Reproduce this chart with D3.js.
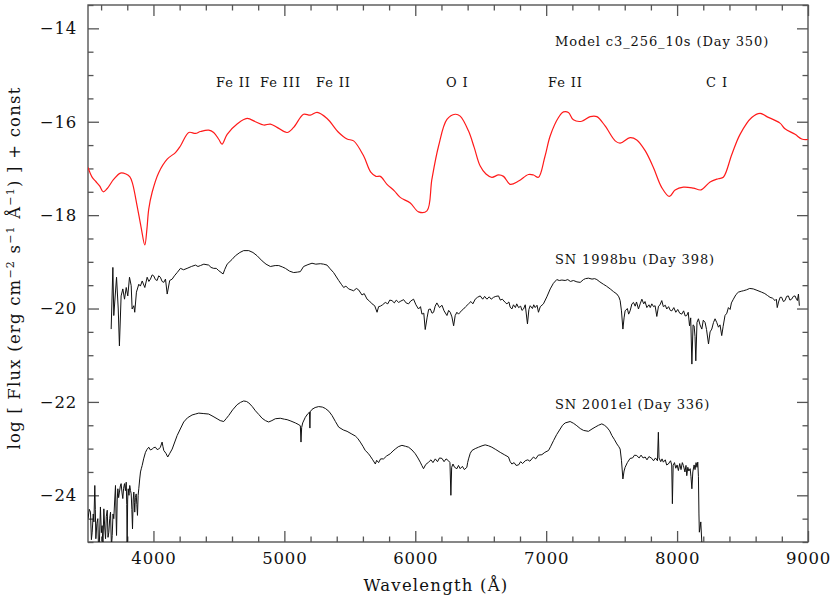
<!DOCTYPE html>
<html><head><meta charset="utf-8">
<script src="https://cdn.jsdelivr.net/npm/d3@7"></script>
<style>
body{margin:0;background:#fff;}
svg{display:block;}
text{font-family:"DejaVu Serif",serif;fill:#111;}
</style></head>
<body>
<svg id="chart" width="830" height="616"></svg>
<script>
// ---------------- DATA ----------------
const xDomain = [3500, 9000];
const yDomain = [-25, -13.5];
const xMajorTicks = [4000, 5000, 6000, 7000, 8000, 9000];
const yMajorTicks = [-24, -22, -20, -18, -16, -14];

const modelSpectrum = [
[3500,-16.98],[3530,-17.18],[3560,-17.28],[3590,-17.38],[3616,-17.50],[3647,-17.43],[3697,-17.23],[3748,-17.10],[3790,-17.12],[3820,-17.18],[3840,-17.32],[3875,-17.80],[3905,-18.25],[3934,-18.64],[3950,-18.30],[3964,-17.87],[3990,-17.51],[4040,-17.09],[4105,-16.80],[4168,-16.66],[4206,-16.52],[4270,-16.23],[4321,-16.25],[4359,-16.21],[4422,-16.18],[4460,-16.23],[4500,-16.38],[4524,-16.48],[4563,-16.27],[4639,-16.05],[4715,-15.93],[4779,-16.00],[4842,-16.07],[4893,-16.05],[4944,-16.12],[5021,-16.23],[5071,-16.12],[5147,-15.84],[5198,-15.86],[5250,-15.80],[5326,-15.93],[5415,-16.23],[5479,-16.37],[5529,-16.41],[5605,-16.73],[5660,-17.08],[5700,-17.17],[5733,-17.17],[5784,-17.34],[5840,-17.48],[5885,-17.62],[5962,-17.74],[6025,-17.93],[6089,-17.91],[6127,-17.23],[6178,-16.52],[6242,-15.95],[6305,-15.84],[6343,-15.88],[6407,-16.20],[6450,-16.55],[6496,-16.95],[6540,-17.12],[6585,-17.19],[6636,-17.14],[6674,-17.17],[6725,-17.34],[6789,-17.27],[6865,-17.13],[6903,-17.14],[6941,-17.19],[6990,-16.75],[7031,-16.30],[7094,-15.91],[7132,-15.79],[7170,-15.80],[7208,-15.96],[7272,-15.99],[7336,-15.89],[7387,-15.89],[7450,-16.09],[7527,-16.41],[7565,-16.46],[7641,-16.34],[7692,-16.39],[7756,-16.62],[7819,-16.98],[7883,-17.41],[7941,-17.60],[7985,-17.46],[8048,-17.40],[8124,-17.42],[8183,-17.46],[8252,-17.29],[8315,-17.22],[8353,-17.19],[8418,-16.70],[8481,-16.27],[8570,-15.91],[8634,-15.82],[8685,-15.89],[8786,-16.03],[8824,-16.15],[8901,-16.27],[8952,-16.37],[9000,-16.38]
];

const sn1998bu = [
[3677,-20.44],[3690,-19.12],[3697,-20.15],[3718,-19.33],[3731,-20.01],[3740,-20.80],[3753,-19.73],[3766,-19.58],[3779,-19.80],[3792,-19.55],[3804,-19.73],[3817,-19.33],[3830,-19.51],[3837,-20.01],[3850,-19.94],[3857,-20.08],[3870,-19.65],[3888,-19.48],[3900,-19.52],[3914,-19.41],[3934,-19.55],[3952,-19.33],[3965,-19.42],[3977,-19.37],[3990,-19.28],[4002,-19.30],[4015,-19.38],[4028,-19.40],[4040,-19.30],[4053,-19.33],[4066,-19.42],[4079,-19.44],[4092,-19.37],[4105,-19.69],[4124,-19.40],[4143,-19.37],[4160,-19.30],[4181,-19.23],[4206,-19.14],[4230,-19.17],[4257,-19.14],[4290,-19.10],[4321,-19.07],[4340,-19.10],[4359,-19.08],[4385,-19.05],[4422,-19.07],[4440,-19.12],[4460,-19.14],[4480,-19.14],[4499,-19.19],[4532,-19.26],[4545,-19.16],[4563,-19.05],[4600,-18.95],[4626,-18.87],[4660,-18.80],[4689,-18.76],[4728,-18.76],[4760,-18.80],[4792,-18.87],[4830,-18.98],[4860,-19.05],[4893,-19.10],[4930,-19.08],[4957,-19.08],[4985,-19.11],[5008,-19.14],[5040,-19.20],[5071,-19.23],[5100,-19.22],[5122,-19.21],[5147,-19.10],[5180,-19.06],[5211,-19.03],[5240,-19.05],[5275,-19.04],[5300,-19.05],[5326,-19.07],[5350,-19.15],[5376,-19.23],[5415,-19.40],[5435,-19.48],[5453,-19.55],[5470,-19.52],[5491,-19.58],[5510,-19.60],[5529,-19.62],[5550,-19.57],[5567,-19.60],[5593,-19.71],[5610,-19.68],[5632,-19.80],[5650,-19.84],[5670,-19.90],[5690,-19.94],[5708,-20.08],[5720,-19.96],[5733,-19.95],[5750,-19.92],[5771,-19.87],[5790,-19.90],[5805,-19.82],[5822,-19.83],[5840,-19.88],[5855,-19.82],[5873,-19.87],[5890,-19.84],[5911,-19.81],[5930,-19.88],[5949,-19.90],[5965,-19.84],[5987,-19.80],[6005,-19.92],[6025,-20.01],[6040,-19.96],[6051,-20.12],[6065,-20.10],[6076,-20.45],[6090,-20.20],[6102,-20.02],[6115,-20.01],[6128,-20.10],[6140,-20.08],[6152,-19.95],[6165,-19.88],[6185,-19.98],[6204,-19.93],[6220,-20.05],[6242,-20.15],[6255,-20.04],[6267,-20.08],[6280,-20.18],[6293,-20.37],[6305,-20.15],[6318,-20.08],[6330,-20.12],[6343,-20.08],[6355,-20.04],[6369,-20.01],[6385,-19.96],[6407,-19.90],[6425,-19.85],[6440,-19.90],[6458,-19.80],[6475,-19.76],[6496,-19.73],[6515,-19.80],[6530,-19.74],[6547,-19.80],[6565,-19.75],[6580,-19.80],[6598,-19.76],[6615,-19.74],[6636,-19.73],[6650,-19.82],[6665,-19.80],[6687,-19.87],[6700,-19.90],[6715,-19.86],[6725,-19.97],[6738,-20.01],[6750,-19.92],[6765,-19.98],[6775,-19.90],[6789,-19.98],[6805,-19.95],[6815,-20.04],[6827,-20.01],[6840,-19.92],[6857,-20.33],[6868,-20.02],[6878,-19.94],[6895,-20.00],[6905,-19.92],[6916,-19.98],[6930,-19.93],[6941,-20.08],[6955,-19.96],[6979,-19.90],[7005,-19.75],[7031,-19.58],[7055,-19.46],[7081,-19.38],[7100,-19.40],[7120,-19.39],[7145,-19.40],[7165,-19.38],[7185,-19.42],[7208,-19.40],[7235,-19.43],[7260,-19.44],[7285,-19.38],[7300,-19.36],[7323,-19.35],[7350,-19.37],[7370,-19.36],[7387,-19.38],[7410,-19.43],[7437,-19.48],[7460,-19.52],[7489,-19.58],[7515,-19.64],[7540,-19.69],[7555,-19.75],[7565,-19.83],[7575,-20.05],[7586,-20.44],[7595,-20.20],[7603,-20.05],[7620,-20.00],[7630,-20.12],[7641,-20.05],[7655,-19.90],[7667,-19.87],[7680,-19.95],[7690,-19.86],[7705,-20.01],[7718,-19.90],[7731,-19.80],[7745,-19.90],[7755,-19.85],[7769,-19.98],[7785,-19.92],[7795,-19.98],[7807,-19.90],[7820,-19.96],[7832,-19.94],[7845,-20.17],[7858,-19.95],[7870,-19.92],[7883,-19.83],[7895,-19.96],[7910,-19.93],[7921,-20.01],[7935,-19.96],[7948,-20.04],[7960,-20.05],[7975,-19.98],[7990,-20.08],[8005,-20.02],[8020,-20.10],[8036,-20.12],[8050,-20.05],[8062,-20.16],[8074,-20.15],[8085,-20.08],[8095,-20.37],[8104,-20.20],[8113,-21.19],[8122,-20.35],[8130,-20.37],[8137,-20.60],[8143,-21.12],[8152,-20.30],[8163,-20.22],[8175,-20.35],[8189,-20.44],[8200,-20.25],[8214,-20.30],[8225,-20.45],[8240,-20.76],[8252,-20.50],[8265,-20.44],[8278,-20.30],[8290,-20.22],[8303,-20.30],[8316,-20.40],[8328,-20.35],[8341,-20.58],[8352,-20.38],[8366,-20.15],[8380,-20.10],[8392,-19.98],[8405,-20.02],[8415,-19.88],[8430,-19.80],[8450,-19.70],[8468,-19.65],[8490,-19.63],[8506,-19.62],[8530,-19.60],[8555,-19.57],[8582,-19.58],[8610,-19.61],[8646,-19.65],[8670,-19.68],[8690,-19.72],[8710,-19.76],[8730,-19.78],[8748,-19.83],[8758,-19.80],[8765,-19.98],[8775,-19.86],[8787,-19.76],[8799,-19.76],[8812,-19.85],[8824,-19.83],[8837,-19.74],[8850,-19.73],[8862,-19.82],[8875,-19.80],[8888,-19.74],[8901,-19.73],[8912,-19.80],[8919,-19.83],[8927,-19.69],[8934,-19.94]
];

const sn2001el = [
[3500,-24.50],[3510,-24.30],[3519,-24.36],[3526,-24.95],[3532,-24.79],[3540,-24.40],[3545,-24.57],[3552,-23.79],[3556,-24.30],[3560,-24.93],[3568,-24.60],[3575,-24.50],[3580,-25.10],[3586,-25.10],[3595,-24.25],[3602,-24.80],[3608,-24.65],[3614,-25.10],[3621,-24.29],[3628,-24.70],[3634,-24.93],[3640,-24.45],[3647,-24.32],[3653,-24.90],[3659,-24.79],[3666,-24.50],[3672,-24.36],[3679,-25.10],[3685,-24.86],[3691,-24.40],[3697,-24.50],[3704,-24.10],[3710,-23.79],[3714,-24.40],[3718,-24.86],[3723,-24.10],[3728,-23.86],[3734,-24.05],[3740,-23.93],[3747,-23.80],[3753,-23.75],[3760,-23.95],[3766,-24.07],[3772,-23.85],[3779,-23.75],[3786,-23.90],[3792,-23.72],[3796,-24.20],[3799,-25.10],[3803,-24.10],[3807,-23.86],[3813,-24.00],[3819,-23.79],[3825,-23.90],[3830,-23.97],[3835,-24.30],[3840,-24.72],[3845,-24.10],[3850,-23.93],[3854,-24.15],[3857,-24.36],[3862,-24.05],[3868,-23.97],[3873,-24.20],[3878,-24.43],[3883,-24.00],[3888,-23.86],[3895,-23.65],[3901,-23.50],[3908,-23.42],[3914,-23.36],[3925,-23.22],[3939,-23.08],[3950,-23.02],[3964,-22.97],[3977,-23.03],[3990,-23.01],[4002,-22.98],[4015,-22.97],[4028,-23.02],[4040,-23.01],[4053,-22.97],[4066,-22.86],[4072,-22.95],[4079,-23.04],[4095,-23.10],[4109,-23.18],[4125,-23.10],[4143,-23.01],[4160,-22.88],[4181,-22.72],[4205,-22.58],[4231,-22.43],[4260,-22.34],[4295,-22.28],[4320,-22.26],[4346,-22.24],[4385,-22.25],[4422,-22.26],[4455,-22.31],[4486,-22.36],[4510,-22.40],[4537,-22.42],[4555,-22.36],[4575,-22.29],[4605,-22.17],[4639,-22.06],[4665,-22.01],[4689,-21.98],[4710,-21.99],[4728,-22.02],[4755,-22.10],[4779,-22.19],[4805,-22.27],[4830,-22.35],[4855,-22.40],[4880,-22.43],[4905,-22.40],[4931,-22.36],[4969,-22.35],[5000,-22.37],[5021,-22.38],[5050,-22.41],[5084,-22.45],[5105,-22.48],[5122,-22.51],[5127,-22.86],[5132,-22.55],[5140,-22.45],[5160,-22.33],[5180,-22.25],[5192,-22.22],[5195,-22.56],[5198,-22.21],[5211,-22.16],[5235,-22.12],[5262,-22.10],[5290,-22.11],[5313,-22.14],[5340,-22.20],[5364,-22.29],[5390,-22.42],[5415,-22.54],[5450,-22.60],[5479,-22.63],[5510,-22.68],[5542,-22.73],[5560,-22.78],[5580,-22.86],[5600,-22.95],[5618,-23.04],[5640,-23.10],[5656,-23.16],[5675,-23.24],[5695,-23.33],[5705,-23.25],[5720,-23.30],[5735,-23.22],[5758,-23.22],[5780,-23.16],[5809,-23.11],[5830,-23.05],[5847,-23.01],[5870,-22.96],[5898,-22.93],[5925,-22.95],[5949,-22.97],[5975,-23.03],[6000,-23.11],[6020,-23.20],[6038,-23.29],[6050,-23.36],[6063,-23.43],[6080,-23.34],[6102,-23.29],[6120,-23.24],[6135,-23.30],[6153,-23.22],[6170,-23.28],[6185,-23.20],[6204,-23.21],[6220,-23.28],[6235,-23.22],[6254,-23.26],[6265,-23.30],[6272,-24.00],[6278,-23.40],[6288,-23.33],[6300,-23.40],[6318,-23.43],[6330,-23.36],[6343,-23.43],[6360,-23.38],[6375,-23.45],[6394,-23.40],[6400,-23.30],[6407,-23.22],[6420,-23.10],[6433,-23.04],[6458,-23.00],[6483,-22.97],[6510,-22.94],[6534,-22.92],[6560,-22.94],[6585,-22.97],[6615,-23.02],[6649,-23.08],[6680,-23.13],[6712,-23.18],[6725,-23.28],[6738,-23.33],[6755,-23.30],[6770,-23.36],[6789,-23.35],[6805,-23.28],[6820,-23.32],[6840,-23.26],[6860,-23.24],[6875,-23.27],[6903,-23.18],[6920,-23.22],[6940,-23.14],[6967,-23.13],[6990,-23.08],[7018,-23.04],[7035,-22.95],[7056,-22.83],[7080,-22.70],[7107,-22.58],[7125,-22.50],[7145,-22.45],[7183,-22.42],[7210,-22.46],[7234,-22.51],[7260,-22.57],[7285,-22.61],[7323,-22.63],[7350,-22.58],[7374,-22.54],[7400,-22.50],[7425,-22.47],[7445,-22.50],[7463,-22.54],[7485,-22.62],[7502,-22.72],[7520,-22.80],[7540,-22.90],[7555,-22.96],[7565,-23.01],[7575,-23.25],[7586,-23.65],[7595,-23.48],[7603,-23.40],[7620,-23.30],[7641,-23.21],[7660,-23.20],[7675,-23.14],[7692,-23.15],[7710,-23.20],[7725,-23.14],[7740,-23.20],[7756,-23.18],[7770,-23.24],[7785,-23.17],[7807,-23.21],[7820,-23.26],[7835,-23.20],[7850,-23.26],[7857,-22.65],[7862,-23.20],[7875,-23.28],[7885,-23.22],[7895,-23.29],[7910,-23.24],[7920,-23.35],[7933,-23.33],[7950,-23.26],[7959,-23.35],[7964,-24.18],[7970,-23.36],[7980,-23.30],[7990,-23.42],[8000,-23.35],[8010,-23.47],[8020,-23.32],[8030,-23.45],[8040,-23.30],[8048,-23.36],[8060,-23.50],[8068,-23.36],[8074,-23.58],[8082,-23.40],[8090,-23.48],[8100,-23.43],[8106,-23.60],[8113,-23.86],[8120,-23.50],[8130,-23.35],[8137,-23.45],[8145,-23.30],[8152,-23.40],[8158,-23.29],[8163,-23.60],[8167,-24.40],[8170,-24.79],[8175,-24.70],[8181,-24.57],[8186,-24.85],[8191,-25.10]
];

const spectrumLabels = ["Model c3_256_10s (Day 350)", "SN 1998bu (Day 398)", "SN 2001el (Day 336)"];
const spectrumLabelPos = [[555, 46], [555, 264], [555, 409]];
const lineIds = ["Fe II", "Fe III", "Fe II", "O I", "Fe II", "C I"];
const lineIdX = [216, 260, 316, 446, 548, 706];

// ---------------- LAYOUT ----------------
const svg = d3.select("#chart");
const L = 88, R = 808, T = 5, B = 542;
const x = d3.scaleLinear().domain(xDomain).range([L, R]);
const y = d3.scaleLinear().domain(yDomain).range([B, T]);

const xMinor = d3.range(3600, 9001, 200).filter(v => v % 1000 !== 0);
const yMinor = d3.range(-25, -13.49, 0.5).filter(v => v % 2 !== 0);

const axisCol = "#555";
const majLen = 11, minLen = 5.5;
const fmt = d => (d < 0 ? "\u2212" : "") + Math.abs(d);

function styleAxis(g) {
  g.select(".domain").remove();
  g.selectAll(".tick line").attr("stroke", axisCol).attr("stroke-width", 1.3);
  g.selectAll("text").attr("fill", "#111").style("font-family", "DejaVu Serif")
    .style("font-size", "16.5px").style("letter-spacing", "0.8px");
}

// bottom
svg.append("g").attr("transform", `translate(0,${B})`)
  .call(d3.axisBottom(x).tickValues(xMajorTicks).tickSize(-majLen).tickPadding(10).tickFormat(d3.format("d")))
  .call(styleAxis);
svg.append("g").attr("transform", `translate(0,${B})`)
  .call(d3.axisBottom(x).tickValues(xMinor).tickSize(-minLen).tickFormat(""))
  .call(styleAxis);
// top
svg.append("g").attr("transform", `translate(0,${T})`)
  .call(d3.axisTop(x).tickValues(xMajorTicks).tickSize(-majLen).tickFormat(""))
  .call(styleAxis);
svg.append("g").attr("transform", `translate(0,${T})`)
  .call(d3.axisTop(x).tickValues(xMinor).tickSize(-minLen).tickFormat(""))
  .call(styleAxis);
// left
svg.append("g").attr("transform", `translate(${L},0)`)
  .call(d3.axisLeft(y).tickValues(yMajorTicks).tickSize(-majLen).tickPadding(11).tickFormat(fmt))
  .call(styleAxis);
svg.append("g").attr("transform", `translate(${L},0)`)
  .call(d3.axisLeft(y).tickValues(yMinor).tickSize(-minLen).tickFormat(""))
  .call(styleAxis);
// right
svg.append("g").attr("transform", `translate(${R},0)`)
  .call(d3.axisRight(y).tickValues(yMajorTicks).tickSize(-majLen).tickFormat(""))
  .call(styleAxis);
svg.append("g").attr("transform", `translate(${R},0)`)
  .call(d3.axisRight(y).tickValues(yMinor).tickSize(-minLen).tickFormat(""))
  .call(styleAxis);

// frame
svg.append("rect").attr("x", L).attr("y", T).attr("width", R - L).attr("height", B - T)
  .attr("fill", "none").attr("stroke", axisCol).attr("stroke-width", 1.4);

// clip
svg.append("clipPath").attr("id", "clip").append("rect")
  .attr("x", L).attr("y", T).attr("width", R - L).attr("height", B - T);
const plot = svg.append("g").attr("clip-path", "url(#clip)");

const lineLin = d3.line().x(d => x(d[0])).y(d => y(d[1]));
const lineSmooth = d3.line().x(d => x(d[0])).y(d => y(d[1])).curve(d3.curveCatmullRom.alpha(0.5));

plot.append("path").datum(modelSpectrum).attr("d", lineSmooth)
  .attr("fill", "none").attr("stroke", "#ff1a1a").attr("stroke-width", 1.2);
plot.append("path").datum(sn1998bu).attr("d", lineLin)
  .attr("fill", "none").attr("stroke", "#111").attr("stroke-width", 1);
plot.append("path").datum(sn2001el).attr("d", lineLin)
  .attr("fill", "none").attr("stroke", "#111").attr("stroke-width", 1);

// labels
spectrumLabels.forEach((t, i) => {
  svg.append("text").attr("x", spectrumLabelPos[i][0]).attr("y", spectrumLabelPos[i][1]).text(t)
    .style("font-size", "13px").style("letter-spacing", "0.9px");
});
lineIds.forEach((t, i) => {
  svg.append("text").attr("x", lineIdX[i]).attr("y", 87).text(t)
    .style("font-size", "13px").style("letter-spacing", "0.9px");
});

// axis titles
svg.append("text").attr("x", 436).attr("y", 591).attr("text-anchor", "middle")
  .style("font-size", "16.5px").style("letter-spacing", "1.2px").text("Wavelength (\u00C5)");

const yt = svg.append("text").attr("transform", "translate(20,268) rotate(-90)")
  .attr("text-anchor", "middle").style("font-size", "16.5px").style("letter-spacing", "1.2px");
yt.append("tspan").text("log [ Flux (erg cm");
yt.append("tspan").attr("dy", -6).style("font-size", "11px").text("\u22122");
yt.append("tspan").attr("dy", 6).text(" s");
yt.append("tspan").attr("dy", -6).style("font-size", "11px").text("\u22121");
yt.append("tspan").attr("dy", 6).text(" \u00C5");
yt.append("tspan").attr("dy", -6).style("font-size", "11px").text("\u22121");
yt.append("tspan").attr("dy", 6).text(") ] + const");
</script>
</body></html>
